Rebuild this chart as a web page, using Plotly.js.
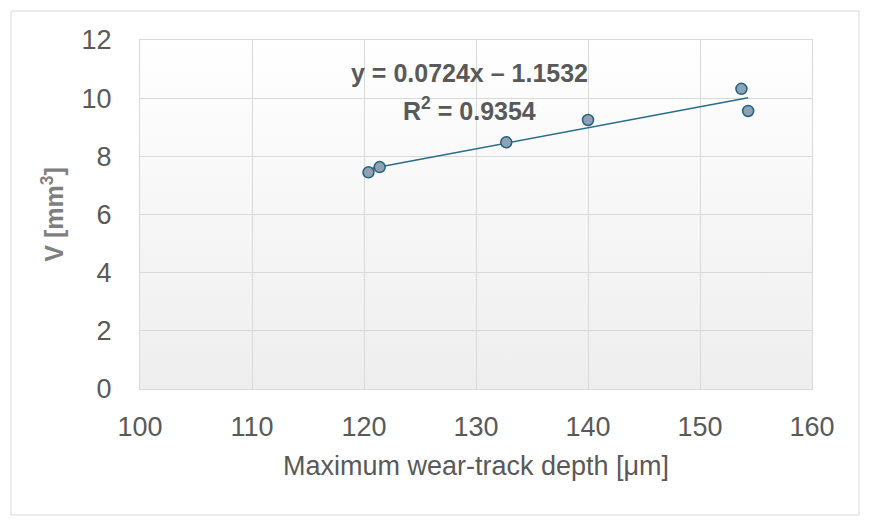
<!DOCTYPE html>
<html>
<head>
<meta charset="utf-8">
<script src="https://cdn.plot.ly/plotly-3.0.1.min.js"></script>
<style>
  body { margin: 0; background: #fff; }
  #chart { width: 869px; height: 526px; }
</style>
</head>
<body>
<div id="chart"></div>
<script>
const depth = [120.4, 121.4, 132.7, 140.0, 153.7, 154.3];
const volume = [7.45, 7.63, 8.48, 9.25, 10.32, 9.56];

// linear trendline as printed on the chart
const slope = 0.0724;
const intercept = -1.1532;
const rSquared = "0.9354";

const xTicks = [100, 110, 120, 130, 140, 150, 160];
const yTicks = [0, 2, 4, 6, 8, 10, 12];
const xRange = [100, 160];
const yRange = [0, 12];

const grey = "#595959";
const gridColor = "#d9d9d9";

const xMin = Math.min(...depth);
const xMax = Math.max(...depth);

// plot-area background: white at the top fading to light grey
const gradientSvg =
  '<svg xmlns="http://www.w3.org/2000/svg" width="10" height="100" preserveAspectRatio="none">' +
  '<defs><linearGradient id="g" x1="0" y1="0" x2="0" y2="1">' +
  '<stop offset="0" stop-color="#ffffff"/><stop offset="1" stop-color="#eeeeee"/>' +
  '</linearGradient></defs><rect width="10" height="100" fill="url(#g)"/></svg>';
const gradientUri = "data:image/svg+xml;base64," + btoa(gradientSvg);

const trend = {
  x: [xMin, xMax],
  y: [slope * xMin + intercept, slope * xMax + intercept],
  mode: "lines",
  line: { color: "#2b6b8c", width: 1.5 },
  showlegend: false,
};

const points = {
  x: depth,
  y: volume,
  mode: "markers",
  marker: {
    size: 11,
    color: "#8ea2b4",
    line: { color: "#23607f", width: 1.5 },
  },
  showlegend: false,
};

const sign = intercept < 0 ? "\u2013" : "+";
const eqText = `y = ${slope}x ${sign} ${Math.abs(intercept)}`;

const layout = {
  width: 869,
  height: 526,
  margin: { l: 140, r: 57, t: 40, b: 137 },
  paper_bgcolor: "#ffffff",
  plot_bgcolor: "#ffffff",
  font: { family: "Liberation Sans, Arial, sans-serif", color: grey },
  xaxis: {
    range: xRange,
    tickvals: xTicks,
    ticks: "",
    ticklabelstandoff: 14,
    tickfont: { size: 27, color: grey },
    showgrid: true,
    gridcolor: gridColor,
    zeroline: false,
    showline: true,
    mirror: true,
    linecolor: gridColor,
    title: {
      text: "Maximum wear-track depth [\u03bcm]",
      font: { size: 27, color: grey },
      standoff: 14,
    },
  },
  yaxis: {
    range: yRange,
    tickvals: yTicks,
    ticks: "",
    ticklabelstandoff: 22,
    tickfont: { size: 27, color: grey },
    showgrid: true,
    gridcolor: gridColor,
    zeroline: false,
    showline: true,
    mirror: true,
    linecolor: gridColor,
    title: {
      text: "<b>V [mm<sup>3</sup>]</b>",
      font: { size: 25, color: "#7f7f7f" },
      standoff: 10,
    },
  },
  images: [
    {
      source: gradientUri,
      xref: "paper", yref: "paper",
      x: 0, y: 1, sizex: 1, sizey: 1,
      xanchor: "left", yanchor: "top",
      sizing: "stretch",
      layer: "below",
    },
  ],
  annotations: [
    {
      x: 129.4, y: 10.87, xref: "x", yref: "y",
      text: `<b>${eqText}</b>`,
      showarrow: false,
      font: { size: 25, color: grey },
    },
    {
      x: 129.4, y: 9.63, xref: "x", yref: "y",
      text: `<b>R<sup>2</sup> = ${rSquared}</b>`,
      showarrow: false,
      font: { size: 25, color: grey },
    },
  ],
  shapes: [
    {
      type: "rect",
      xref: "paper", yref: "paper",
      x0: -0.192, x1: 1.070, y0: -0.361, y1: 1.083,
      line: { color: gridColor, width: 1 },
      fillcolor: "rgba(0,0,0,0)",
    },
  ],
};

Plotly.newPlot("chart", [trend, points], layout, {
  displayModeBar: false,
  staticPlot: true,
});
</script>
</body>
</html>
